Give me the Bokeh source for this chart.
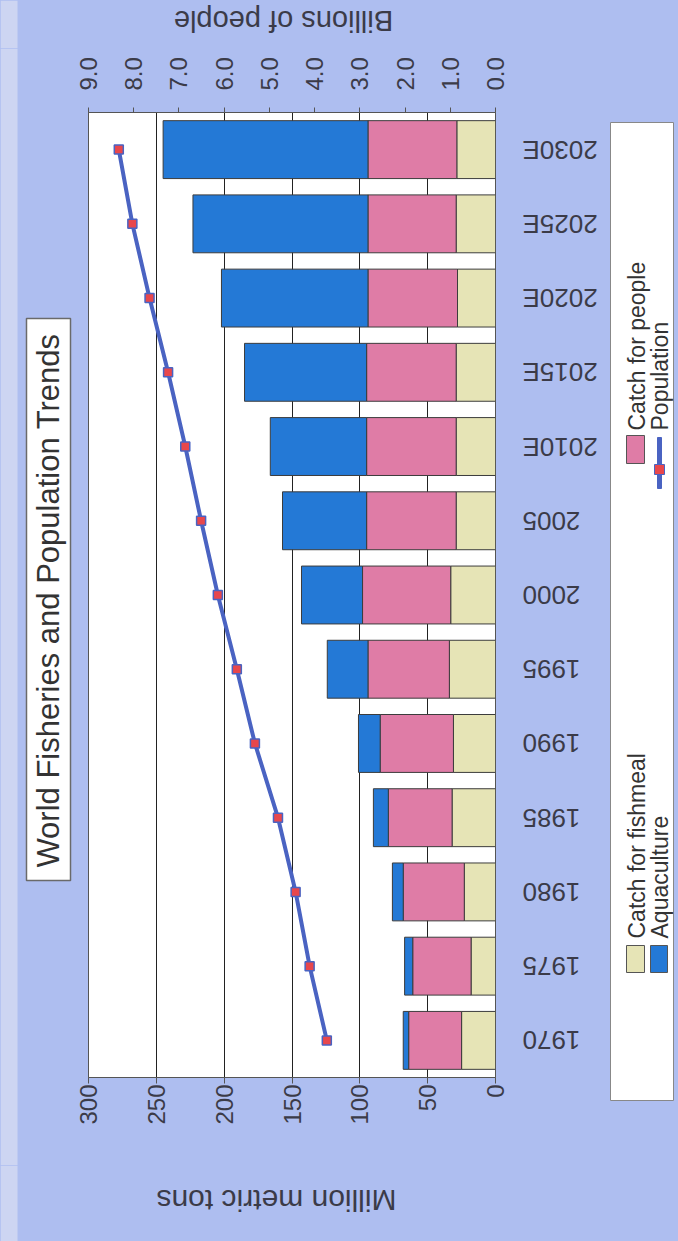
import math
from bokeh.plotting import figure
from bokeh.layouts import column, row
from bokeh.models import (ColumnDataSource, FactorRange, Range1d, LinearAxis, FixedTicker,
                          PrintfTickFormatter)
from bokeh.core.properties import value
from bokeh.embed import file_html
from bokeh.resources import INLINE

# ---------------- data ----------------
years = ["1970", "1975", "1980", "1985", "1990", "1995", "2000", "2005",
         "2010E", "2015E", "2020E", "2025E", "2030E"]
fishmeal = [25, 18, 23, 32, 31, 34, 33, 29, 29, 29, 28, 29, 28.5]
people = [39, 43, 45, 47, 54, 60, 65, 66, 66, 66, 66, 65, 65.5]
aquaculture = [4, 6, 8, 11, 16, 30, 45, 62, 71, 90, 108, 129, 151]
population = [3.73, 4.11, 4.42, 4.81, 5.32, 5.72, 6.14, 6.51, 6.86, 7.24, 7.65, 8.03, 8.33]
series_names = ["Catch for fishmeal", "Catch for people", "Aquaculture", "Population"]
tons_ticks = [0, 50, 100, 150, 200, 250, 300]
people_ticks = [0, 1, 2, 3, 4, 5, 6, 7, 8, 9]
title_text = "World Fisheries and Population Trends"
tons_label = "Million metric tons"
people_label = "Billions of people"

# ---------------- style ----------------
FONT = "Liberation Sans"
C_FISH = "#e6e4b6"
C_PEOPLE = "#df7ca6"
C_AQUA = "#2479d6"
C_LINE = "#4a63c2"
C_MARK = "#e8474c"
BG = "#aebef0"
EDGE = "#cdd5f2"
TXT = "#3b3b48"

W, H = 678, 1241
TOP_H = 48            # strip with the upper axis title
BOT_Y = 1165          # canvas y where the lower strip starts
LEFT_W = 72           # column with the chart title
MAIN_X1 = 520         # right edge of the chart figure
LAB_W = 80            # column with the year labels
FL, FR, FT, FB = 88, 495, 112, 1077   # frame edges in canvas px
MAIN_W = MAIN_X1 - LEFT_W
LEG_X0 = MAIN_X1 + LAB_W
LEG_W = W - LEG_X0
MAIN_H = BOT_Y - TOP_H


def no_align(f):
    if hasattr(f, "frame_align"):
        f.frame_align = False
    return f


def strip(width, height, x0=0):
    f = figure(width=width, height=height, x_range=Range1d(x0, x0 + width),
               y_range=Range1d(0, height), output_backend="svg", toolbar_location=None,
               x_axis_location=None, y_axis_location=None, min_border=0,
               background_fill_color=BG, border_fill_color=BG, outline_line_color=None)
    f.grid.visible = False
    return no_align(f)


# ---------------- main chart ----------------
src = ColumnDataSource(dict(year=years, fishmeal=fishmeal, people=people,
                            aqua=aquaculture, pop=population))

p = figure(width=MAIN_W, height=MAIN_H, y_range=FactorRange(*years), x_range=Range1d(300, 0),
           y_axis_location=None, output_backend="svg", toolbar_location=None,
           min_border_left=FL - LEFT_W, min_border_right=MAIN_X1 - FR,
           min_border_top=FT - TOP_H, min_border_bottom=BOT_Y - FB,
           background_fill_color="white", border_fill_color=BG, outline_line_color="#555555")
no_align(p)
p.extra_x_ranges = {"pop": Range1d(9, 0)}

p.hbar_stack(["fishmeal", "people", "aqua"], y="year", height=0.78,
             color=[C_FISH, C_PEOPLE, C_AQUA], line_color="#3c3c3c", line_width=1,
             source=src)
p.line(x="pop", y="year", x_range_name="pop", source=src, line_color=C_LINE, line_width=4)
p.scatter(x="pop", y="year", x_range_name="pop", source=src, marker="square", size=9,
          fill_color=C_MARK, line_color=C_LINE, line_width=1.5)

tk = FixedTicker(ticks=tons_ticks)
p.xgrid.ticker = tk
p.xgrid.grid_line_color = "#222222"
p.xgrid.grid_line_width = 1
p.ygrid.grid_line_color = None

xa = p.xaxis[0]
xa.ticker = tk
xa.major_label_orientation = math.pi / 2
xa.major_label_text_font = FONT
xa.major_label_text_font_size = "24px"
xa.major_label_text_color = TXT
xa.major_label_standoff = 1
xa.major_tick_out = 6
xa.major_tick_in = 0
xa.minor_tick_line_color = None
xa.axis_line_color = "#555555"
xa.major_tick_line_color = "#555555"

ta = LinearAxis(x_range_name="pop", ticker=FixedTicker(ticks=people_ticks),
                formatter=PrintfTickFormatter(format="%.1f"))
ta.major_label_orientation = math.pi / 2
ta.major_label_text_font = FONT
ta.major_label_text_font_size = "24px"
ta.major_label_text_color = TXT
ta.major_label_standoff = 17
ta.major_tick_out = 5
ta.major_tick_in = 0
ta.minor_tick_line_color = None
ta.axis_line_color = "#555555"
ta.major_tick_line_color = "#555555"
p.add_layout(ta, "above")

# ---------------- title column (reads upward) ----------------
left = strip(LEFT_W, MAIN_H)


def ly(Y):
    return BOT_Y - Y


left.quad(left=[0], right=[17], top=[MAIN_H], bottom=[0], fill_color=EDGE, line_color=None)
left.quad(left=[26], right=[70], top=[ly(318)], bottom=[ly(880)], fill_color="white",
          line_color="#6a6a6a", line_width=1.5)
left.text(x=[48], y=[ly(600)], text=[title_text], angle=math.pi / 2, text_align="center",
          text_baseline="middle", text_font=value(FONT), text_font_size="31px",
          text_color="#333333")

# ---------------- year labels (upside down, beside the category side) ----------------
lab = figure(width=LAB_W, height=MAIN_H, y_range=p.y_range,
             x_range=Range1d(MAIN_X1, MAIN_X1 + LAB_W),
             output_backend="svg", toolbar_location=None, x_axis_location=None,
             y_axis_location=None, min_border_left=0, min_border_right=0,
             min_border_top=FT - TOP_H, min_border_bottom=BOT_Y - FB,
             background_fill_color=BG, border_fill_color=BG, outline_line_color=None)
lab.grid.visible = False
no_align(lab)
lab.text(x=[FR + 27] * len(years), y=years, text=years, angle=math.pi, text_align="right",
         text_baseline="middle", text_font=value(FONT), text_font_size="26px",
         text_color=TXT)

# ---------------- upper strip: axis title, upside down ----------------
top = strip(W, TOP_H)
top.quad(left=[0], right=[17], top=[TOP_H], bottom=[0], fill_color=EDGE, line_color=None)
top.text(x=[283], y=[TOP_H - 20], text=[people_label], angle=math.pi,
         text_align="center", text_baseline="middle", text_font=value(FONT),
         text_font_size="29px", text_color=TXT)

# ---------------- lower strip: axis title, upside down ----------------
BOT_H = H - BOT_Y
bot = strip(W, BOT_H)
bot.quad(left=[0], right=[17], top=[BOT_H], bottom=[0], fill_color=EDGE, line_color=None)
bot.text(x=[276], y=[H - 1200], text=[tons_label], angle=math.pi,
         text_align="center", text_baseline="middle", text_font=value(FONT),
         text_font_size="30px", text_color=TXT)

# ---------------- legend column, rotated ----------------
leg = strip(LEG_W, MAIN_H, LEG_X0)


def lbox(x0, x1, y0, y1, fill, line="#555555"):
    leg.quad(left=[x0], right=[x1], top=[ly(y0)], bottom=[ly(y1)], fill_color=fill,
             line_color=line, line_width=1)


def ltext(txt, X, Y):
    leg.text(x=[X], y=[ly(Y)], text=[txt], angle=math.pi / 2, text_align="left",
             text_baseline="middle", text_font=value(FONT), text_font_size="23px",
             text_color="#333333")


lbox(610, 673, 122, 1100, "white", "#888888")
lbox(626, 644, 945, 972, C_FISH)
ltext(series_names[0], 636, 938)
lbox(650, 667, 945, 972, C_AQUA)
ltext(series_names[2], 659, 938)
lbox(626, 644, 435, 463, C_PEOPLE)
ltext(series_names[1], 636, 430)
lbox(657, 661, 437, 488, C_LINE, C_LINE)
lbox(654, 664, 464, 474, C_MARK, C_LINE)
ltext(series_names[3], 659, 430)

bg_style = {"background-color": BG}
middle = row(left, p, lab, leg, styles=bg_style)
layout = column(top, middle, bot, styles=bg_style)
open("out.html", "w").write(file_html(layout, INLINE))
